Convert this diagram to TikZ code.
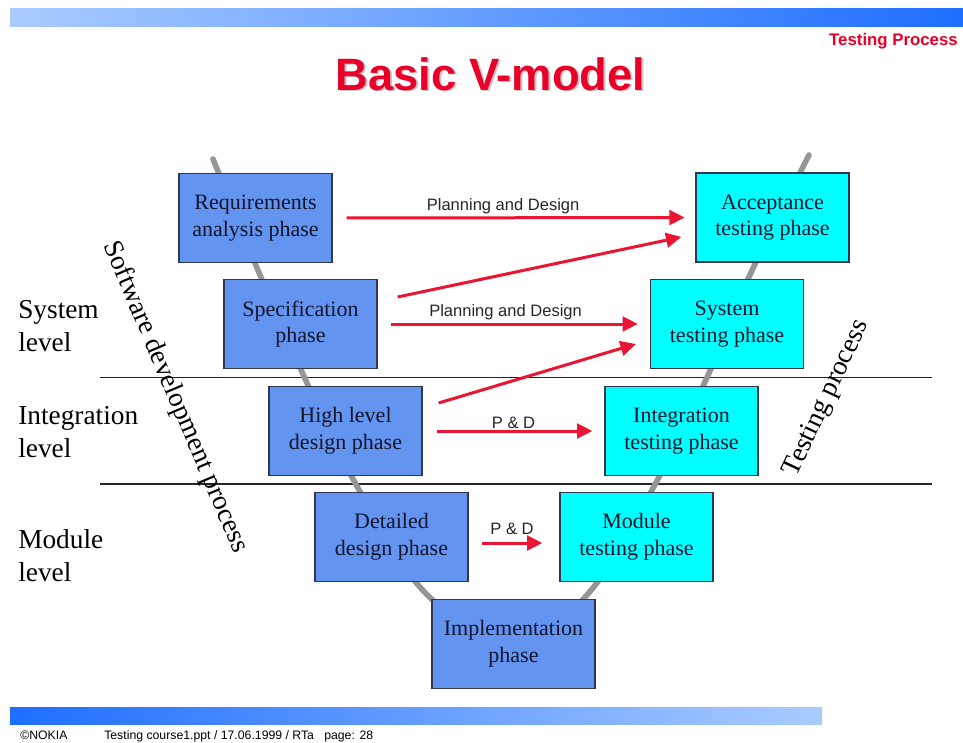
\documentclass[tikz,border=0pt]{standalone}
\usepackage{fontspec}
\usepackage{graphicx}
\setmainfont{Liberation Serif}
\setsansfont{Liberation Sans}
\usetikzlibrary{arrows.meta,calc}

\definecolor{phaseblue}{RGB}{99,149,240}
\definecolor{testcyan}{RGB}{0,255,255}
\definecolor{boxedge}{RGB}{50,55,80}
\definecolor{vgrey}{RGB}{150,150,150}
\definecolor{slidered}{RGB}{232,0,40}
\definecolor{arrowred}{RGB}{235,20,50}
\definecolor{barlight}{RGB}{170,204,255}
\definecolor{bardark}{RGB}{30,110,255}
\definecolor{phasetext}{RGB}{20,20,45}

\tikzset{
  phase/.style={draw=boxedge, line width=1pt, minimum width=114.75pt,
    minimum height=66.75pt, inner sep=0pt, align=center,
    font=\fontsize{16.5}{20}\selectfont, text=phasetext},
  devbox/.style={phase, fill=phaseblue},
  testbox/.style={phase, fill=testcyan},
  pd/.style={draw=arrowred, line width=2.25pt,
    -{Triangle[length=11.5pt,width=11pt]}},
  pdlabel/.style={font=\sffamily\fontsize{12.4}{14}\selectfont,
    text=black!85, inner sep=0pt},
  levellabel/.style={anchor=west, align=left, inner sep=0pt,
    font=\fontsize{20.5}{24.75}\selectfont},
  slantlabel/.style={inner sep=0pt, font=\fontsize{20.5}{24}\selectfont},
  rule/.style={line width=0.9pt, draw=black!85},
}

\begin{document}
\begin{tikzpicture}[x=0.75pt,y=-0.75pt]
  % page
  \useasboundingbox (0,0) rectangle (963,742);
  \fill[white] (0,0) rectangle (963,742);

  % header and footer bars
  \shade[left color=barlight, right color=bardark] (10,9) rectangle (963,27);
  \shade[left color=bardark, right color=barlight] (10,707) rectangle (822,724);

  \node[anchor=base east, inner sep=0pt, text=slidered,
        font=\sffamily\bfseries\fontsize{12.6}{15}\selectfont]
        (hdr) at (958,46) {Testing Process};

  % title with a soft shadow
  \node[anchor=base, inner sep=0pt, text=black!22,
        font=\sffamily\bfseries\fontsize{34}{40}\selectfont]
        (titleshadow) at (492.5,92) {Basic V-model};
  \node[anchor=base, inner sep=0pt, text=slidered,
        font=\sffamily\bfseries\fontsize{34}{40}\selectfont]
        (title) at (490.5,90) {Basic V-model};

  % level separators
  \draw[rule] (100,377.5) -- (932,377.5);
  \draw[rule] (100,484) -- (932,484);

  % the V behind the phases
  \draw[vgrey, line width=4.2pt, line cap=round]
    plot[smooth, tension=0.55] coordinates {
      (213,159) (258.5,271.5) (304.5,377.5) (356,484.5) (424,591.5)
      (513,648) (590,591.5) (655,484.5) (707,377.5) (751.5,271.5) (809,155)};

  % development phases
  \node[devbox] (req)  at (255.5,218)   {Requirements\\analysis phase};
  \node[devbox] (spec) at (300.5,324)   {Specification\\phase};
  \node[devbox] (hld)  at (345.5,431)   {High level\\design phase};
  \node[devbox] (ddd)  at (391.5,537)   {Detailed\\design phase};
  \node[devbox, minimum width=122.25pt] (impl) at (513.5,644)
        {Implementation\\phase};

  % testing phases
  \node[testbox] (modt) at (636.5,537)   {Module\\testing phase};
  \node[testbox] (intt) at (681.5,431)   {Integration\\testing phase};
  \node[testbox] (syst) at (727,324)     {System\\testing phase};
  \node[testbox] (acct) at (772.5,217.5) {Acceptance\\testing phase};

  % planning and design arrows
  \draw[pd, shorten <=10.5pt, shorten >=8pt] (req.east) -- (acct.west)
    node[pdlabel, pos=0.47, above=2pt] (lab1) {Planning and Design};
  \draw[pd] ($(spec.east)+(20,-27)$) -- ($(acct.west)+(-14,19.5)$);
  \draw[pd, shorten <=9.75pt, shorten >=9pt] (spec.east) -- (syst.west)
    node[pdlabel, pos=0.47, above=2pt] (lab2) {Planning and Design};
  \draw[pd] ($(hld.east)+(16,-28)$) -- ($(syst.west)+(-14,20)$);
  \draw[pd, shorten <=10.5pt, shorten >=9pt] (hld.east) -- (intt.west)
    node[pdlabel, pos=0.5, above=1pt] (lab3) {P \& D};
  \draw[pd] ($(ddd.east)+(13,6)$) -- ($(modt.west)+(-17,6)$)
    node[pdlabel, midway, above=5pt] (lab4) {P \& D};

  % level names
  \node[levellabel] (lvsys) at (18,326) {System\\level};
  \node[levellabel] (lvint) at (18,432) {Integration\\level};
  \node[levellabel] (lvmod) at (18,556) {Module\\level};

  % process captions along the arms
  \node[slantlabel, rotate=-67] (devproc) at (175,397)
        {Software development process};
  \node[slantlabel, rotate=65] (testproc) at (827,398) {Testing process};

  % footer
  \node[anchor=base west, inner sep=0pt,
        font=\sffamily\fontsize{9.2}{11}\selectfont] (copy) at (20,739)
        {©NOKIA};
  \node[anchor=base west, inner sep=0pt,
        font=\sffamily\fontsize{9.2}{11}\selectfont] (foot) at (104,739)
        {Testing course1.ppt / 17.06.1999 / RTa\ \ \ page: 28};
\end{tikzpicture}
\end{document}
